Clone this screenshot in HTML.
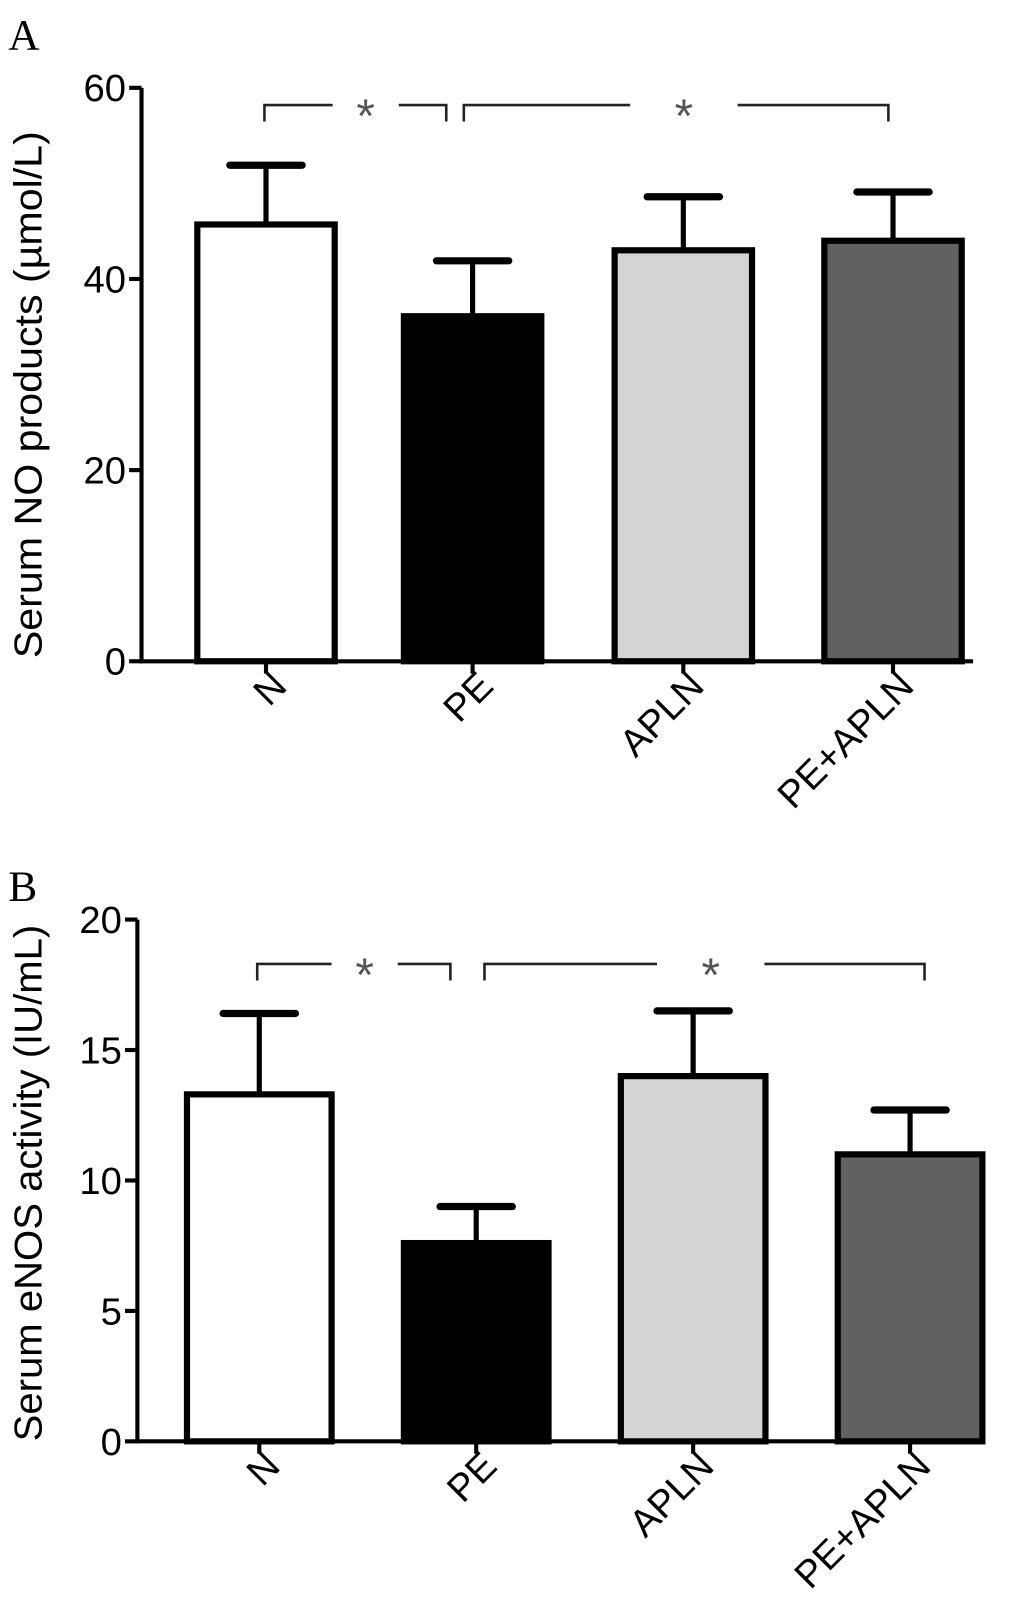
<!DOCTYPE html>
<html><head><meta charset="utf-8"><style>
html,body{margin:0;padding:0;background:#fff}
svg{display:block}
text{font-family:"Liberation Sans",Arial,sans-serif}
</style></head><body>
<svg id="fig" width="1033" height="1617" viewBox="0 0 1000 1565" preserveAspectRatio="none">
<text x="8" y="48" font-size="42" style="font-family:'Liberation Serif',serif">A</text>
<text x="8" y="872" font-size="42" style="font-family:'Liberation Serif',serif">B</text>
</svg>
<script>
const categories = ["N","PE","APLN","PE+APLN"];
const noMeans = [45.7, 36.1, 43.0, 44.0];
const noErr = [51.9, 41.9, 48.6, 49.1];
const noTicks = [0, 20, 40, 60];
const enosMeans = [13.3, 7.6, 14.0, 11.0];
const enosErr = [16.4, 9.0, 16.5, 12.7];
const enosTicks = [0, 5, 10, 15, 20];
const fills = ["#ffffff","#000000","#d4d4d4","#616161"];

const NS = "http://www.w3.org/2000/svg";
const svg = document.getElementById("fig");
function mk(tag, attrs, parent){
  const e = document.createElementNS(NS, tag);
  for (const k in attrs) e.setAttribute(k, attrs[k]);
  (parent||svg).appendChild(e);
  return e;
}
function panel(cfg){
  const g = mk("g", {});
  
  
  const y = v => cfg.y0 - (v - cfg.vmin) / (cfg.vmax - cfg.vmin) * (cfg.y0 - cfg.y1);
  const ya = mk("line", {x1:cfg.ax, y1:y(cfg.vmax), x2:cfg.ax, y2:cfg.y0+2, stroke:"#000","stroke-width":4}, g);
  
  
  const xa = mk("line", {x1:cfg.ax-2, y1:cfg.y0, x2:cfg.axEnd, y2:cfg.y0, stroke:"#000","stroke-width":4}, g);
  
  
  cfg.ticks.forEach(t => {
    mk("line", {x1:cfg.ax-12, y1:y(t), x2:cfg.ax, y2:y(t), stroke:"#000","stroke-width":4}, g);
    const tl = mk("text", {x:cfg.ax-15, y:y(t)+13, "text-anchor":"end","font-size":37}, g);
    tl.textContent = t;
    
    
  });
  const title = mk("text", {x:0, y:0, "text-anchor":"middle","font-size":38, "textLength":cfg.titleLen, "lengthAdjust":"spacingAndGlyphs", transform:`translate(${cfg.titleX},${cfg.titleY}) rotate(-90)`}, g);
  title.textContent = cfg.title;
  
  
  categories.forEach((c, i) => {
    const x0 = cfg.barX[i], w = cfg.barW, cx = x0 + w/2;
    const yt = y(cfg.means[i]), ye = y(cfg.err[i]);
    const eb = mk("line", {x1:cx, y1:ye, x2:cx, y2:yt, stroke:"#000","stroke-width":5}, g);
    
    
    mk("line", {x1:cx-35, y1:ye, x2:cx+35, y2:ye, stroke:"#000","stroke-width":7,"stroke-linecap":"round"}, g);
    const r = mk("rect", {x:x0, y:yt, width:w, height:cfg.y0-yt, fill:fills[i], stroke:"#000","stroke-width":6}, g);
    
    
    mk("line", {x1:cx, y1:cfg.y0, x2:cx, y2:cfg.y0+12, stroke:"#000","stroke-width":4}, g);
    const lx = cx + 22, ly = cfg.y0 + 26;
    const lab = mk("text", {x:0, y:0, "text-anchor":"end","font-size":37, transform:`translate(${lx},${ly}) rotate(-45)`}, g);
    lab.textContent = c;
    
    
  });
  cfg.brackets.forEach(b => {
    const by = y(b.v), d = b.drop;
    mk("path", {d:`M${b.x1},${by+d} V${by} H${b.s-b.gap}`, fill:"none", stroke:"#222","stroke-width":2.5}, g);
    mk("path", {d:`M${b.s+b.gap},${by} H${b.x2} V${by+d}`, fill:"none", stroke:"#222","stroke-width":2.5}, g);
    const st = mk("text", {x:b.s, y:by+26, "text-anchor":"middle","font-size":46, fill:"#555"}, g);
    st.textContent = "*";
    
    
  });
}
panel({name:"panel-a-chart", ax:137, axEnd:942, y0:640, y1:85, vmin:0, vmax:60, ticks:noTicks,
  means:noMeans, err:noErr, barX:[191,391,595,798], barW:133, titleX:40, titleY:382, titleLen:510,
  title:"Serum NO products (\u00b5mol/L)",
  brackets:[{x1:256,x2:432,s:354,gap:32,v:58.2,drop:16},{x1:449,x2:860,s:662,gap:52,v:58.2,drop:16}]});
panel({name:"panel-b-chart", ax:133, axEnd:952, y0:1395, y1:890, vmin:0, vmax:20, ticks:enosTicks,
  means:enosMeans, err:enosErr, barX:[181,391,601,811], barW:140, titleX:40, titleY:1145, titleLen:500,
  title:"Serum eNOS activity (IU/mL)",
  brackets:[{x1:249,x2:436,s:353,gap:32,v:18.3,drop:16},{x1:469,x2:895,s:688,gap:52,v:18.3,drop:16}]});
</script>
</body></html>
